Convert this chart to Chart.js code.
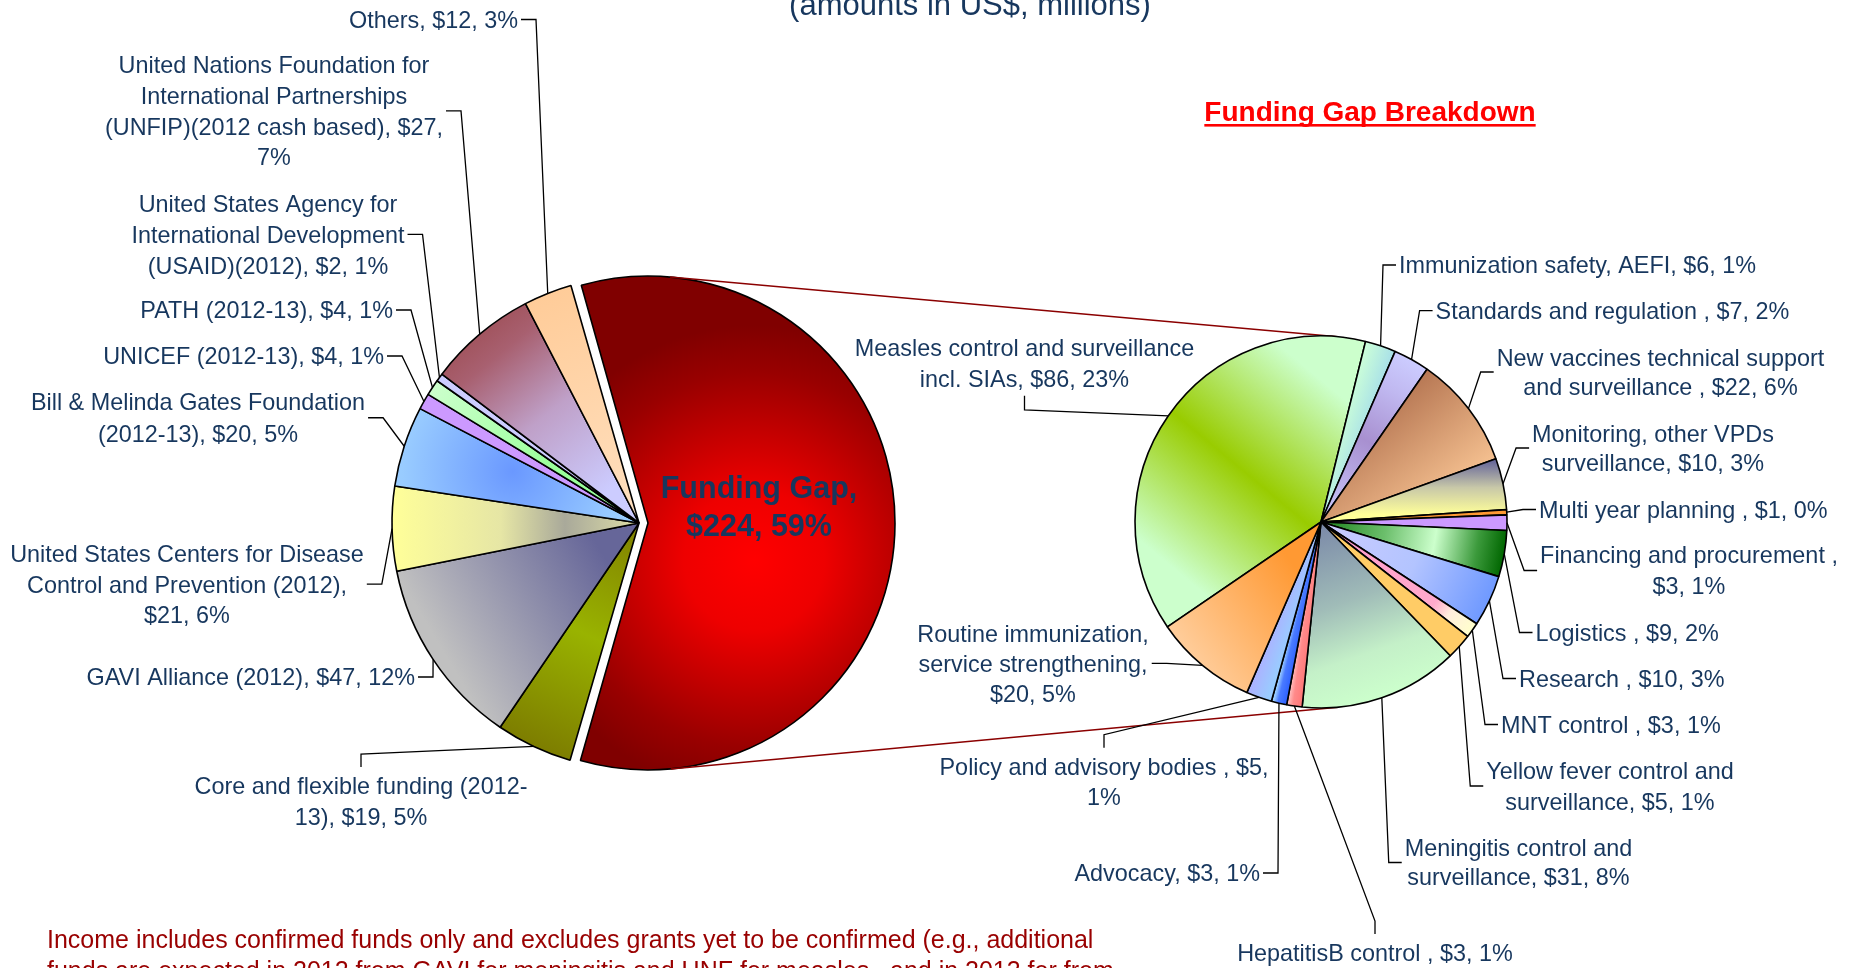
<!DOCTYPE html>
<html><head><meta charset="utf-8">
<script src="https://cdn.jsdelivr.net/npm/chart.js@4.4.1/dist/chart.umd.min.js"></script>
<style>
html,body{margin:0;padding:0;background:#fff;overflow:hidden;width:1855px;height:968px}
canvas{position:absolute;left:0;top:0}
</style></head><body>
<canvas id="leftPie" width="1855" height="968"></canvas>
<canvas id="rightPie" width="1855" height="968"></canvas>
<script>
// ================= DATA =================
const incomeCategories = [
  "Funding Gap",
  "Core and flexible funding (2012-13)",
  "GAVI Alliance (2012)",
  "United States Centers for Disease Control and Prevention (2012)",
  "Bill & Melinda Gates Foundation (2012-13)",
  "UNICEF (2012-13)",
  "PATH (2012-13)",
  "United States Agency for International Development (USAID)(2012)",
  "United Nations Foundation for International Partnerships (UNFIP)(2012 cash based)",
  "Others"
];
const incomeValues = [224, 19, 47, 21, 20, 4, 4, 2, 27, 12];
const incomeLabelLines = [
  ["Funding Gap,", "$224, 59%"],
  ["Core and flexible funding (2012-", "13), $19, 5%"],
  ["GAVI Alliance (2012), $47, 12%"],
  ["United States Centers for Disease", "Control and Prevention (2012),", "$21, 6%"],
  ["Bill & Melinda Gates Foundation", "(2012-13), $20, 5%"],
  ["UNICEF (2012-13), $4, 1%"],
  ["PATH (2012-13), $4, 1%"],
  ["United States Agency for", "International Development", "(USAID)(2012), $2, 1%"],
  ["United Nations Foundation for", "International Partnerships", "(UNFIP)(2012 cash based), $27,", "7%"],
  ["Others, $12, 3%"]
];

const gapCategories = [
  "Measles control and surveillance incl. SIAs",
  "Immunization safety, AEFI",
  "Standards and regulation",
  "New vaccines technical support and surveillance",
  "Monitoring, other VPDs surveillance",
  "Multi year planning",
  "Financing and procurement",
  "Logistics",
  "Research",
  "MNT control",
  "Yellow fever control and surveillance",
  "Meningitis control and surveillance",
  "HepatitisB control",
  "Advocacy",
  "Policy and advisory bodies",
  "Routine immunization, service strengthening"
];
const gapValues = [86, 6, 7, 22, 10, 1, 3, 9, 10, 3, 5, 31, 3, 3, 5, 20];
const gapLabelLines = [
  ["Measles control and surveillance", "incl. SIAs, $86, 23%"],
  ["Immunization safety, AEFI, $6, 1%"],
  ["Standards and regulation , $7, 2%"],
  ["New vaccines technical support", "and surveillance , $22, 6%"],
  ["Monitoring, other VPDs", "surveillance, $10, 3%"],
  ["Multi year planning , $1, 0%"],
  ["Financing and procurement ,", "$3, 1%"],
  ["Logistics , $9, 2%"],
  ["Research , $10, 3%"],
  ["MNT control , $3, 1%"],
  ["Yellow fever control and", "surveillance, $5, 1%"],
  ["Meningitis control and", "surveillance, $31, 8%"],
  ["HepatitisB control , $3, 1%"],
  ["Advocacy, $3, 1%"],
  ["Policy and advisory bodies , $5,", "1%"],
  ["Routine immunization,", "service strengthening,", "$20, 5%"]
];

const titleText = "(amounts in US$, millions)";
const breakdownTitle = "Funding Gap Breakdown";
const footnoteLines = [
  "Income includes confirmed funds only and excludes grants yet to be confirmed (e.g., additional",
  "funds are expected in 2012 from GAVI for meningitis and UNF for measles , and in 2013 for from"
];

// ================= LAYOUT / STYLE =================
const FONT = '"Liberation Sans", Arial, Helvetica, sans-serif';
const NAVY = '#17375E';
const LABEL_SIZE = 23.4;
const LP = {cx: 639, cy: 523, r: 247, rot: -16, half: 300, explode: 36};
const RP = {cx: 1321, cy: 522, r: 186, rot: -124.35, half: 250};

const incomeLabelPos = [
  {x: 759, y: 487, lh: 38, anchor: 'none', bold: true, size: 30.5},
  {x: 361, y: 786, lh: 30.7, anchor: 'top'},
  {x: 415, y: 677, align: 'right', anchor: 'right'},
  {x: 187, y: 553.5, lh: 30.7, anchor: 'right'},
  {x: 198, y: 402, lh: 31.5, anchor: 'right'},
  {x: 384, y: 356, align: 'right', anchor: 'right'},
  {x: 393, y: 310, align: 'right', anchor: 'right'},
  {x: 268, y: 203.5, lh: 30.8, anchor: 'right'},
  {x: 274, y: 65, lh: 30.6, anchor: 'right'},
  {x: 518, y: 19.5, align: 'right', anchor: 'right'}
];
const gapLabelPos = [
  {x: 1024.5, y: 348, lh: 30.8, anchor: 'bottom'},
  {x: 1399, y: 265, align: 'left', anchor: 'left'},
  {x: 1435.6, y: 310.7, align: 'left', anchor: 'left'},
  {x: 1660.5, y: 357.3, lh: 29.4, anchor: 'left'},
  {x: 1653, y: 433.3, lh: 29.4, anchor: 'left'},
  {x: 1539, y: 509.5, align: 'left', anchor: 'left'},
  {x: 1689, y: 555, lh: 31, anchor: 'left'},
  {x: 1535.5, y: 632.5, align: 'left', anchor: 'left'},
  {x: 1519, y: 678.5, align: 'left', anchor: 'left'},
  {x: 1501, y: 724.5, align: 'left', anchor: 'left'},
  {x: 1610, y: 770.5, lh: 31, anchor: 'left'},
  {x: 1518.5, y: 848, lh: 29, anchor: 'left'},
  {x: 1375, y: 953, anchor: 'top'},
  {x: 1260, y: 873, align: 'right', anchor: 'right'},
  {x: 1104, y: 766.7, lh: 30, anchor: 'top'},
  {x: 1033, y: 633.3, lh: 30, anchor: 'right'}
];

const incomeFills = [
  {t: 'rad', f: 'G', c: [0.43, 0.15], r1: 0.95, stops: [[0, '#FF0000'], [0.3, '#EE0000'], [0.8, '#990000'], [1, '#800000']]},
  {t: 'lin', f: 'L', p0: [0, 0], p1: [1, 0], stops: [[0, '#808000'], [0.5, '#99B300'], [1, '#7D7D00']]},
  {t: 'lin', f: 'G', p0: [-0.15, 0.12], p1: [-0.8, 0.51], stops: [[0, '#666699'], [1, '#C0C0C0']]},
  {t: 'lin', f: 'G', p0: [-1, 0], p1: [0, 0], stops: [[0, '#FFFF99'], [0.44, '#E6E6A5'], [0.7, '#A9A99A'], [0.92, '#D0D0A4'], [1, '#E0E0A0']]},
  {t: 'rad', f: 'G', c: [-0.51, -0.21], r1: 0.45, stops: [[0, '#6A98FF'], [1, '#99CCFF']]},
  '#CC99FF',
  {t: 'lin', f: 'L', p0: [0.4, 0], p1: [1, 0], stops: [[0, '#99FF99'], [1, '#CCFFCC']]},
  '#CCCCFF',
  {t: 'lin', f: 'G', p0: [-0.68, -0.82], p1: [-0.12, -0.13], stops: [[0, '#9E4E55'], [0.2, '#A86070'], [0.55, '#BFA0C8'], [1, '#CCCCFF']]},
  {t: 'lin', f: 'L', p0: [0, 0], p1: [1, 0], stops: [[0, '#FFE0C0'], [1, '#FFCC99']]}
];
const gapFills = [
  {t: 'lin', f: 'G', p0: [-0.90, 0.16], p1: [-0.08, -0.83], stops: [[0, '#CCFFCC'], [0.5, '#99CC00'], [1, '#CCFFCC']]},
  {t: 'lin', f: 'L', p0: [0.8, -0.08], p1: [0.8, 0.08], stops: [[0, '#CCFFD8'], [1, '#A8E0E8']]},
  {t: 'lin', f: 'L', p0: [0, 0], p1: [1, 0], stops: [[0, '#CCCCFF'], [0.5, '#A890D0'], [0.8, '#C0B8F0'], [1, '#CCCCFF']]},
  {t: 'lin', f: 'G', p0: [0.53, -0.76], p1: [0.91, -0.28], stops: [[0, '#B97A56'], [1, '#F8C493']]},
  {t: 'lin', f: 'G', p0: [0.9, -0.33], p1: [0.9, -0.04], stops: [[0, '#66669A'], [0.5, '#C8C8A8'], [1, '#FFFF99']]},
  '#FF9933',
  '#CC99FF',
  {t: 'lin', f: 'L', p0: [0, 0], p1: [1, 0], stops: [[0, '#1A801A'], [0.35, '#6CBF6C'], [0.62, '#CCFFCC'], [0.85, '#3C9A3C'], [1, '#006600']]},
  {t: 'lin', f: 'L', p0: [0, 0], p1: [1, 0], stops: [[0, '#CCCCFF'], [0.55, '#B3C4FF'], [1, '#6F99FF']]},
  {t: 'lin', f: 'L', p0: [0, 0], p1: [1, 0], stops: [[0, '#FF99CC'], [0.75, '#FFAACC'], [0.85, '#FFEEDD'], [1, '#FFFFCC']]},
  '#FFCC66',
  {t: 'lin', f: 'L', p0: [0, 0], p1: [1, 0], stops: [[0, '#7A88A8'], [0.45, '#A0BCB8'], [0.75, '#C4F0C8'], [1, '#CCFFCC']]},
  {t: 'lin', f: 'L', p0: [0.9, -0.04], p1: [0.9, 0.04], stops: [[0, '#FF7777'], [0.6, '#FF8A8A'], [1, '#FFC8C8']]},
  {t: 'lin', f: 'L', p0: [0.9, -0.03], p1: [0.9, 0.03], stops: [[0, '#3366FF'], [0.6, '#4A7BFF'], [1, '#99CCFF']]},
  {t: 'lin', f: 'L', p0: [0.9, -0.05], p1: [0.9, 0.05], stops: [[0, '#99CCFF'], [1, '#AAB4FF']]},
  {t: 'lin', f: 'G', p0: [-0.17, 0.2], p1: [-0.76, 0.63], stops: [[0, '#FF9933'], [1, '#FFCC99']]}
];

// ================= HELPERS =================
function sliceGeom(chart, i, values, P) {
  const total = values.reduce((a, b) => a + b, 0);
  let a0 = (P.rot - 90) * Math.PI / 180;
  for (let k = 0; k < i; k++) a0 += values[k] / total * 2 * Math.PI;
  const a1 = a0 + values[i] / total * 2 * Math.PI;
  const ca = chart.chartArea;
  return {cx: (ca.left + ca.right) / 2, cy: (ca.top + ca.bottom) / 2, r: P.r, mid: (a0 + a1) / 2};
}
function pt(g, f, p) {
  if (f === 'G') return [g.cx + p[0] * g.r, g.cy + p[1] * g.r];
  const c = Math.cos(g.mid), s = Math.sin(g.mid);
  return [g.cx + g.r * (p[0] * c - p[1] * s), g.cy + g.r * (p[0] * s + p[1] * c)];
}
function makeFill(context, fills, values, P) {
  const spec = fills[context.dataIndex];
  if (typeof spec === 'string') return spec;
  const chart = context.chart;
  if (!chart.chartArea) return spec.stops[0][1];
  const g = sliceGeom(chart, context.dataIndex, values, P);
  const ctx = chart.ctx;
  let grad;
  if (spec.t === 'rad') {
    const c = pt(g, spec.f, spec.c);
    grad = ctx.createRadialGradient(c[0], c[1], 0, c[0], c[1], spec.r1 * g.r);
  } else {
    const a = pt(g, spec.f, spec.p0), b = pt(g, spec.f, spec.p1);
    grad = ctx.createLinearGradient(a[0], a[1], b[0], b[1]);
  }
  spec.stops.forEach(s => grad.addColorStop(s[0], s[1]));
  return grad;
}

function drawLabels(chart, lines, pos) {
  const ctx = chart.ctx;
  const meta = chart.getDatasetMeta(0);
  ctx.save();
  ctx.strokeStyle = '#000';
  ctx.lineWidth = 1.3;
  for (let i = 0; i < lines.length; i++) {
    const p = pos[i], L = lines[i];
    const size = p.size || LABEL_SIZE, lh = p.lh || 30.5;
    ctx.font = (p.bold ? 'bold ' : '') + size + 'px ' + FONT;
    ctx.fillStyle = NAVY;
    const maxW = Math.max(...L.map(s => ctx.measureText(s).width));
    const align = p.align || 'center';
    const left = align === 'left' ? p.x : (align === 'right' ? p.x - maxW : p.x - maxW / 2);
    const right = left + maxW, cxb = (left + right) / 2;
    const n = L.length;
    const yc = p.y + (n - 1) * lh / 2;
    ctx.textAlign = 'center';
    ctx.textBaseline = 'alphabetic';
    L.forEach((s, k) => ctx.fillText(s, cxb, p.y + k * lh + size * 0.36));
    if (p.anchor && p.anchor !== 'none') {
      const arc = meta.data[i];
      const mid = (arc.startAngle + arc.endAngle) / 2;
      const R = arc.outerRadius;
      const ex = arc.x + Math.cos(mid) * R, ey = arc.y + Math.sin(mid) * R;
      let s0, s1;
      if (p.anchor === 'right') { s0 = [right + 3, yc]; s1 = [right + 18, yc]; }
      else if (p.anchor === 'left') { s0 = [left - 3, yc]; s1 = [left - 16, yc]; }
      else if (p.anchor === 'top') { s0 = [cxb, p.y - 19]; s1 = [cxb, p.y - 32]; }
      else { const b = p.y + (n - 1) * lh + 17; s0 = [cxb, b]; s1 = [cxb, b + 14]; }
      ctx.beginPath();
      ctx.moveTo(s0[0], s0[1]); ctx.lineTo(s1[0], s1[1]); ctx.lineTo(ex, ey);
      ctx.stroke();
    }
  }
  ctx.restore();
}

function paddingFor(P, W, H) {
  return {left: P.cx - P.half, right: W - (P.cx + P.half), top: P.cy - P.half, bottom: H - (P.cy + P.half)};
}

// ================= LEFT PIE =================
const W = 1855, H = 968;
const leftChart = new Chart(document.getElementById('leftPie'), {
  type: 'pie',
  data: {
    labels: incomeCategories,
    datasets: [{
      data: incomeValues,
      backgroundColor: (c) => makeFill(c, incomeFills, incomeValues, LP),
      borderColor: '#000',
      borderWidth: 1.6,
      offset: incomeValues.map((v, i) => i === 0 ? LP.explode : 0)
    }]
  },
  options: {
    responsive: false, animation: false, devicePixelRatio: 1, events: [],
    rotation: LP.rot, radius: LP.r,
    layout: {padding: paddingFor(LP, W, H)},
    plugins: {legend: {display: false}, tooltip: {enabled: false}}
  },
  plugins: [{
    id: 'leftDeco',
    afterDatasetsUpdate(chart) {
      const arc = chart.getDatasetMeta(0).data[0];
      arc.outerRadius = LP.r - LP.explode / 4;
    },
    afterDraw(chart) {
      const ctx = chart.ctx;
      drawLabels(chart, incomeLabelLines, incomeLabelPos);
      ctx.save();
      ctx.fillStyle = NAVY;
      ctx.font = '31px ' + FONT;
      ctx.textAlign = 'center'; ctx.textBaseline = 'alphabetic';
      ctx.fillText(titleText, 970, 15);
      ctx.fillStyle = '#FF0000';
      ctx.font = 'bold 28px ' + FONT;
      ctx.fillText(breakdownTitle, 1370, 121);
      const tw = ctx.measureText(breakdownTitle).width;
      ctx.fillRect(1370 - tw / 2, 124, tw, 2.6);
      ctx.fillStyle = '#990000';
      ctx.font = '25px ' + FONT;
      ctx.textAlign = 'left';
      footnoteLines.forEach((s, k) => ctx.fillText(s, 47, 948 + k * 30.5));
      ctx.restore();
    }
  }]
});

// ================= RIGHT PIE =================
const rightChart = new Chart(document.getElementById('rightPie'), {
  type: 'pie',
  data: {
    labels: gapCategories,
    datasets: [{
      data: gapValues,
      backgroundColor: (c) => makeFill(c, gapFills, gapValues, RP),
      borderColor: '#000',
      borderWidth: 1.6
    }]
  },
  options: {
    responsive: false, animation: false, devicePixelRatio: 1, events: [],
    rotation: RP.rot, radius: RP.r,
    layout: {padding: paddingFor(RP, W, H)},
    plugins: {legend: {display: false}, tooltip: {enabled: false}}
  },
  plugins: [{
    id: 'rightDeco',
    beforeDatasetsDraw(chart) {
      // connector lines: external common tangents of the exploded gap slice and the breakdown pie
      const red = leftChart.getDatasetMeta(0).data[0];
      const half = (red.startAngle + red.endAngle) / 2;
      const off = LP.explode / 4;
      const c1 = [red.x + Math.cos(half) * off, red.y + Math.sin(half) * off];
      const r1 = red.outerRadius + off;
      const a = chart.getDatasetMeta(0).data[0];
      const c2 = [a.x, a.y], r2 = a.outerRadius;
      const dx = c2[0] - c1[0], dy = c2[1] - c1[1], d = Math.hypot(dx, dy);
      const ux = dx / d, uy = dy / d;
      const phi = Math.acos((r1 - r2) / d);
      const ctx = chart.ctx;
      ctx.save();
      ctx.strokeStyle = '#8B0000';
      ctx.lineWidth = 1.5;
      [-1, 1].forEach(sg => {
        const cp = Math.cos(phi), sp = Math.sin(phi) * sg;
        const nx = ux * cp - uy * sp, ny = ux * sp + uy * cp;
        ctx.beginPath();
        ctx.moveTo(c1[0] + nx * r1, c1[1] + ny * r1);
        ctx.lineTo(c2[0] + nx * r2, c2[1] + ny * r2);
        ctx.stroke();
      });
      ctx.restore();
    },
    afterDraw(chart) {
      drawLabels(chart, gapLabelLines, gapLabelPos);
    }
  }]
});
</script>
</body></html>
